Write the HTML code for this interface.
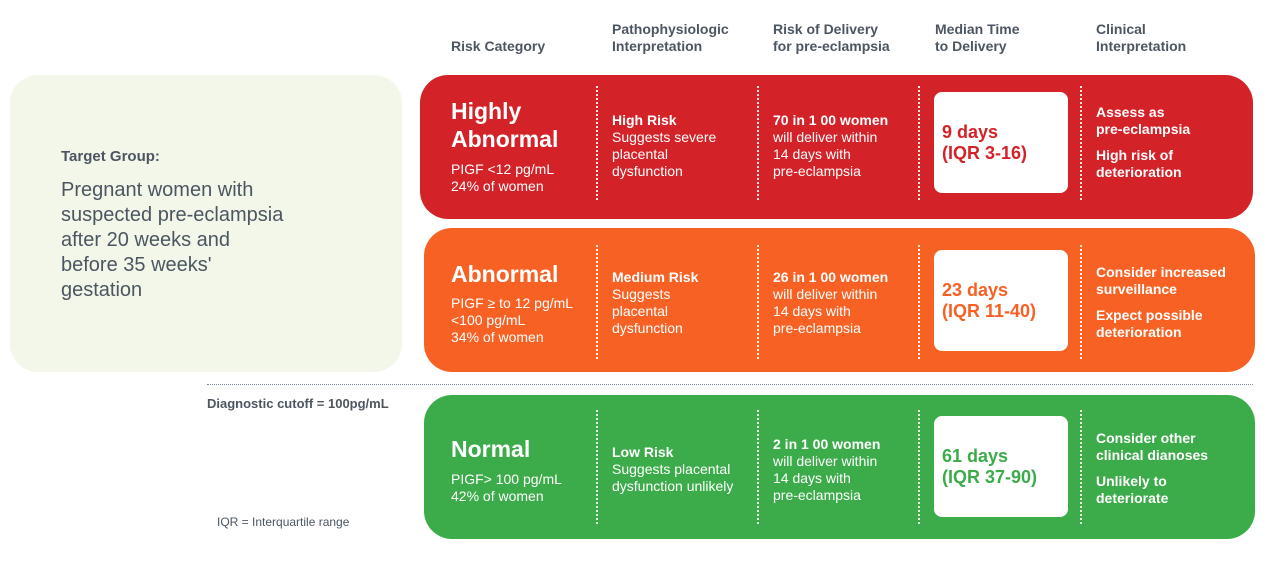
<!DOCTYPE html>
<html><head><meta charset="utf-8"><style>
body{margin:0;width:1280px;height:564px;background:#fff;position:relative;overflow:hidden;font-family:"Liberation Sans",sans-serif}
.a{position:absolute}
.h{color:#4c5661;font-size:14px;font-weight:bold;line-height:17px}
.row{position:absolute;border-radius:28px}
.t{position:absolute;color:#fff;font-size:14px;line-height:17px}
.big{font-size:23px;font-weight:bold;line-height:28px}
.div{position:absolute;width:0;border-left:2px dotted rgba(255,255,255,.9);height:114px}
.box{position:absolute;left:934px;width:134px;height:101px;background:#fff;border-radius:8px;font-weight:bold;font-size:18px;line-height:21px;box-sizing:border-box;padding:0 0 0 8px;display:flex;flex-direction:column;justify-content:center}
</style></head><body>
<div class="a h" style="left:451px;top:38px">Risk Category</div>
<div class="a h" style="left:612px;top:21px">Pathophysiologic<br>Interpretation</div>
<div class="a h" style="left:773px;top:21px">Risk of Delivery<br>for pre-eclampsia</div>
<div class="a h" style="left:935px;top:21px">Median Time<br>to Delivery</div>
<div class="a h" style="left:1096px;top:21px">Clinical<br>Interpretation</div>

<div class="a" style="left:10px;top:75px;width:392px;height:297px;background:#f2f7ea;border-radius:28px"></div>
<div class="a" style="left:61px;top:148px;color:#4c5661;font-weight:bold;font-size:15px">Target Group:</div>
<div class="a" style="left:61px;top:178px;color:#4c5661;font-size:20px;line-height:25px">Pregnant women with<br>suspected pre-eclampsia<br>after 20 weeks and<br>before 35 weeks'<br>gestation</div>

<div class="row" style="left:420px;top:75px;width:833px;height:144px;background:#d42229"></div>
<div class="row" style="left:424px;top:228px;width:831px;height:144px;background:#f76224"></div>
<div class="row" style="left:424px;top:395px;width:831px;height:144px;background:#3cac4a"></div>

<div class="a" style="left:207px;top:384px;width:1046px;border-top:1px dotted #7a8a99"></div>
<div class="a" style="left:207px;top:396px;color:#4c5661;font-weight:bold;font-size:13px">Diagnostic cutoff = 100pg/mL</div>
<div class="a" style="left:217px;top:515px;color:#4c5661;font-size:12px">IQR = Interquartile range</div>

<!-- dividers -->
<div class="div" style="left:596px;top:86px"></div>
<div class="div" style="left:757px;top:86px"></div>
<div class="div" style="left:918px;top:86px"></div>
<div class="div" style="left:1080px;top:86px"></div>
<div class="div" style="left:596px;top:245px"></div>
<div class="div" style="left:757px;top:245px"></div>
<div class="div" style="left:918px;top:245px"></div>
<div class="div" style="left:1080px;top:245px"></div>
<div class="div" style="left:596px;top:410px"></div>
<div class="div" style="left:757px;top:410px"></div>
<div class="div" style="left:918px;top:410px"></div>
<div class="div" style="left:1080px;top:410px"></div>

<!-- row 1 -->
<div class="t big" style="left:451px;top:97px">Highly<br>Abnormal</div>
<div class="t" style="left:451px;top:161px">PIGF &lt;12 pg/mL<br>24% of women</div>
<div class="t" style="left:612px;top:112px"><b>High Risk</b><br>Suggests severe<br>placental<br>dysfunction</div>
<div class="t" style="left:773px;top:112px"><b>70 in 1 00 women</b><br>will deliver within<br>14 days with<br>pre-eclampsia</div>
<div class="box" style="top:92px;color:#d42229">9 days<br>(IQR 3-16)</div>
<div class="t" style="left:1096px;top:104px;font-weight:bold">Assess as<br>pre-eclampsia<div style="height:9px"></div>High risk of<br>deterioration</div>

<!-- row 2 -->
<div class="t big" style="left:451px;top:260px">Abnormal</div>
<div class="t" style="left:451px;top:295px">PIGF ≥ to 12 pg/mL<br>&lt;100 pg/mL<br>34% of women</div>
<div class="t" style="left:612px;top:269px"><b>Medium Risk</b><br>Suggests<br>placental<br>dysfunction</div>
<div class="t" style="left:773px;top:269px"><b>26 in 1 00 women</b><br>will deliver within<br>14 days with<br>pre-eclampsia</div>
<div class="box" style="top:250px;color:#f76224">23 days<br>(IQR 11-40)</div>
<div class="t" style="left:1096px;top:264px;font-weight:bold">Consider increased<br>surveillance<div style="height:9px"></div>Expect possible<br>deterioration</div>

<!-- row 3 -->
<div class="t big" style="left:451px;top:435px">Normal</div>
<div class="t" style="left:451px;top:471px">PIGF&gt; 100 pg/mL<br>42% of women</div>
<div class="t" style="left:612px;top:444px"><b>Low Risk</b><br>Suggests placental<br>dysfunction unlikely</div>
<div class="t" style="left:773px;top:436px"><b>2 in 1 00 women</b><br>will deliver within<br>14 days with<br>pre-eclampsia</div>
<div class="box" style="top:416px;color:#3cac4a">61 days<br>(IQR 37-90)</div>
<div class="t" style="left:1096px;top:430px;font-weight:bold">Consider other<br>clinical dianoses<div style="height:9px"></div>Unlikely to<br>deteriorate</div>
</body></html>
